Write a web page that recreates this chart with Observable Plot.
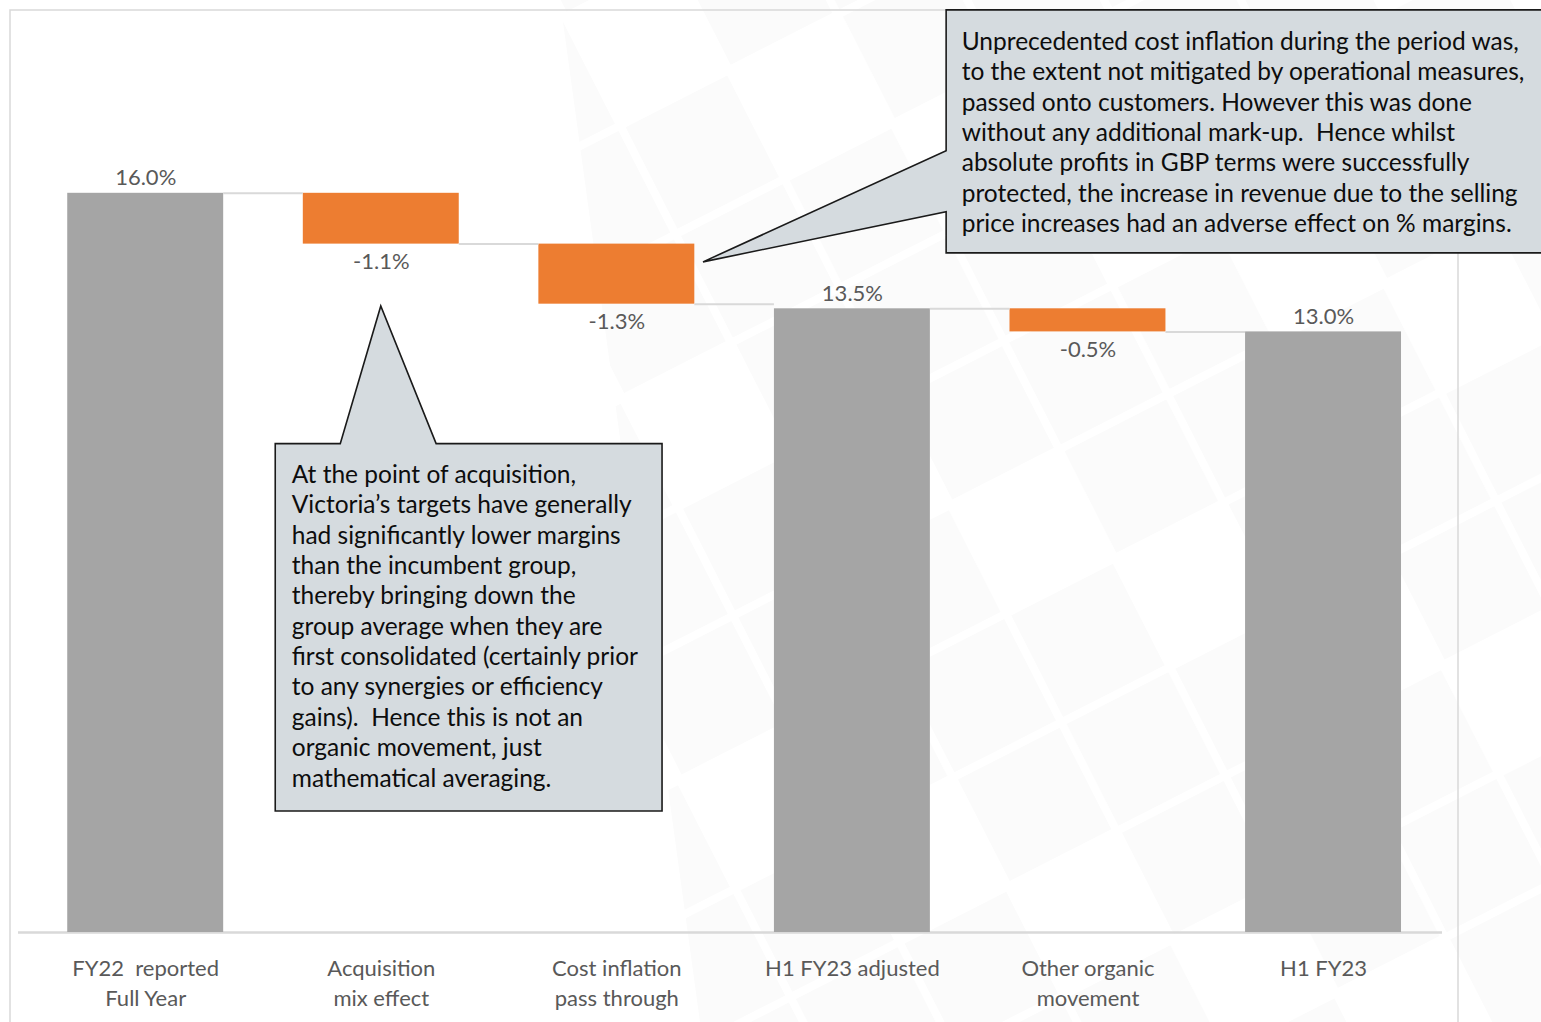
<!DOCTYPE html>
<html>
<head>
<meta charset="utf-8">
<script src="https://cdn.jsdelivr.net/npm/d3@7"></script>
<script src="https://cdn.jsdelivr.net/npm/@observablehq/plot@0.6"></script>
<style>
  html, body { margin: 0; padding: 0; background: #ffffff; }
  #chart svg { display: block; }
</style>
</head>
<body>
<div id="chart"></div>
<script>
// ---- Data: operating margin bridge, FY22 full year to H1 FY23 ----
const categories = [
  "FY22\u00a0 reported\nFull Year",
  "Acquisition\nmix effect",
  "Cost inflation\npass through",
  "H1 FY23 adjusted",
  "Other organic\nmovement",
  "H1 FY23"
];
const kinds = ["total", "delta", "delta", "total", "delta", "total"];
const values = [16.0, -1.1, -1.3, 13.5, -0.5, 13.0];
const valueLabels = ["16.0%", "-1.1%", "-1.3%", "13.5%", "-0.5%", "13.0%"];

// Commentary boxes
const acquisitionNote = [
  "At the point of acquisition,",
  "Victoria\u2019s targets have generally",
  "had significantly lower margins",
  "than the incumbent group,",
  "thereby bringing down the",
  "group average when they are",
  "first consolidated (certainly prior",
  "to any synergies or efficiency",
  "gains).\u00a0 Hence this is not an",
  "organic movement, just",
  "mathematical averaging."
];
const inflationNote = [
  "Unprecedented cost inflation during the period was,",
  "to the extent not mitigated by operational measures,",
  "passed onto customers. However this was done",
  "without any additional mark-up.\u00a0 Hence whilst",
  "absolute profits in GBP terms were successfully",
  "protected, the increase in revenue due to the selling",
  "price increases had an adverse effect on % margins."
];

// ---- Waterfall layout ----
let running = 0;
const rows = categories.map((category, i) => {
  let y1, y2;
  if (kinds[i] === "total") {
    y1 = 0; y2 = values[i]; running = values[i];
  } else {
    y1 = running; y2 = running + values[i]; running = y2;
  }
  return {i, category, kind: kinds[i], label: valueLabels[i], y1, y2, end: running};
});
const connectors = rows.slice(0, -1).map(d => ({from: d.i, to: d.i + 1, level: d.end}));

const HALF = 0.331;          // half bar width, in category units
const GREY = "#a5a5a5";
const ORANGE = "#ed7d31";
const NOTE_FILL = "#d5dbdf";
const TEXT = "#595959";

// Callout outlines in chart coordinates (category index, margin %)
const acquisitionCallout = {
  outline: [[0.552, 10.57], [0.828, 10.57], [1.0, 13.55], [1.235, 10.57],
            [2.194, 10.57], [2.194, 2.62], [0.552, 2.62]],
  text: {x: 0.62, y: 10.2, lines: acquisitionNote}
};
const inflationCallout = {
  outline: [[3.40, 19.96], [5.95, 19.96], [5.95, 14.70], [3.40, 14.70],
            [3.40, 15.59], [2.368, 14.505], [3.40, 16.91]],
  text: {x: 3.464, y: 19.57, lines: inflationNote}
};

// Faint tiled background motif
function watermark(index, scales, values, dims) {
  const g = d3.create("svg:g");
  const clipId = "wm-clip";
  g.append("clipPath").attr("id", clipId)
    .append("path").attr("d", "M560,0L1541,0L1541,1022L700,1022Z");
  const tiles = g.append("g").attr("clip-path", `url(#${clipId})`)
    .append("g").attr("transform", "translate(1120,560) rotate(-27)")
    .attr("fill", "#fbfbfb");
  const cell = 122, size = 114;
  for (let i = -6; i <= 6; i++) {
    for (let j = -7; j <= 7; j++) {
      if ((i * 3 + j * 5) % 4 === 0) continue;
      tiles.append("rect")
        .attr("x", i * cell).attr("y", j * cell)
        .attr("width", size).attr("height", size);
    }
  }
  return g.node();
}

// Light frame around the chart area
function chartBorder(index, scales, values, dims) {
  const g = d3.create("svg:g")
    .attr("fill", "none").attr("stroke", "#d9d9d9").attr("stroke-width", 1.5);
  g.append("path").attr("d", `M10,${dims.height}L10,10L1458,10L1458,${dims.height}`);
  return g.node();
}

function calloutShape(spec) {
  return (index, {x, y}) => {
    const pts = spec.outline.map(([a, b]) => [x(a), y(b)]);
    const g = d3.create("svg:g");
    g.append("path")
      .attr("d", "M" + pts.map(p => p.join(",")).join("L") + "Z")
      .attr("fill", NOTE_FILL)
      .attr("stroke", "#1a1a1a")
      .attr("stroke-width", 1.6)
      .attr("stroke-linejoin", "miter");
    return g.node();
  };
}

function calloutText(spec) {
  return Plot.text([spec.text], {
    x: "x", y: "y",
    text: d => d.lines.join("\n"),
    textAnchor: "start",
    lineAnchor: "top",
    lineHeight: 1.24,
    fontSize: 24.5,
    fill: "#0d0d0d"
  });
}

const chart = Plot.plot({
  width: 1541,
  height: 1022,
  marginLeft: 18,
  marginRight: 99,
  marginTop: 8,
  marginBottom: 90,
  x: {type: "linear", domain: [-0.54, 5.505], axis: null},
  y: {domain: [0, 20], axis: null},
  color: {type: "identity"},
  style: {fontFamily: "Lato, 'Open Sans', sans-serif", background: "#ffffff", overflow: "visible"},
  marks: [
    watermark,
    chartBorder,
    Plot.ruleY([0], {stroke: "#d9d9d9", strokeWidth: 2.5}),
    Plot.rect(rows, {
      x1: d => d.i - HALF,
      x2: d => d.i + HALF,
      y1: "y1",
      y2: "y2",
      fill: d => d.kind === "total" ? GREY : ORANGE
    }),
    Plot.ruleY(connectors, {
      x1: d => d.from + HALF,
      x2: d => d.to - HALF,
      y: "level",
      stroke: "#d9d9d9",
      strokeWidth: 2
    }),
    Plot.text(rows.filter(d => d.kind === "total"), {
      x: "i", y: "y2", text: "label",
      dy: -15, fontSize: 22, fill: TEXT
    }),
    Plot.text(rows.filter(d => d.kind === "delta"), {
      x: "i", y: d => Math.min(d.y1, d.y2), text: "label",
      dy: 18, fontSize: 22, fill: TEXT
    }),
    Plot.axisX(d3.range(categories.length), {
      tickFormat: i => categories[i],
      tickSize: 0,
      tickPadding: 22,
      fontSize: 22,
      lineHeight: 1.37,
      color: TEXT,
      label: null
    }),
    calloutShape(acquisitionCallout),
    calloutText(acquisitionCallout),
    calloutShape(inflationCallout),
    calloutText(inflationCallout)
  ]
});

document.getElementById("chart").appendChild(chart);
</script>
</body>
</html>
